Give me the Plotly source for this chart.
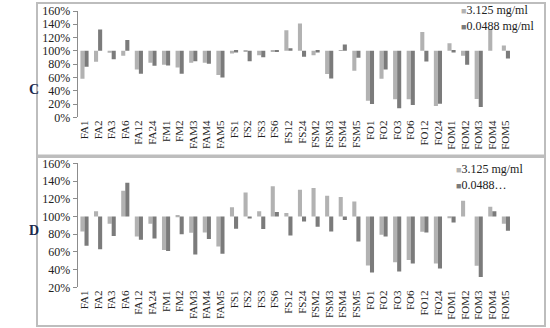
import plotly.graph_objects as go

categories = ["FA1", "FA2", "FA3", "FA6", "FA12", "FA24", "FM1", "FM2", "FAM3", "FAM4",
              "FAM5", "FS1", "FS2", "FS3", "FS6", "FS12", "FS24", "FSM2", "FSM3", "FSM4",
              "FSM5", "FO1", "FO2", "FO3", "FO6", "FO12", "FO24", "FOM1", "FOM2", "FOM3",
              "FOM4", "FOM5"]

# panel C (relative values, 1.0 = 100%)
c_high = [0.58, 0.835, 0.97, 0.925, 0.72, 0.82, 0.79, 0.75, 0.82, 0.82,
          0.635, 0.96, 0.985, 0.935, 0.99, 1.31, 1.41, 0.935, 0.65, 1.01,
          0.70, 0.25, 0.58, 0.27, 0.27, 1.285, 0.17, 1.115, 0.925, 0.275,
          1.325, 1.08]
c_low = [0.76, 1.32, 0.875, 1.165, 0.655, 0.775, 0.78, 0.655, 0.845, 0.805,
         0.60, 0.975, 0.845, 0.905, 0.99, 1.04, 0.91, 0.975, 0.585, 1.095,
         0.895, 0.20, 0.72, 0.135, 0.185, 0.84, 0.205, 0.975, 0.79, 0.155,
         1.0, 0.885]

# panel D
d_high = [0.83, 1.06, 0.917, 1.29, 0.774, 0.917, 0.62, 1.015, 0.815, 0.82,
          0.66, 1.105, 1.27, 1.06, 1.34, 1.038, 1.30, 1.32, 1.233, 1.22,
          1.17, 0.447, 0.793, 0.484, 0.507, 0.827, 0.469, 0.98, 1.177, 0.443,
          1.109, 0.917]
d_low = [0.67, 0.63, 0.78, 1.38, 0.737, 0.75, 0.61, 0.80, 0.57, 0.744,
         0.58, 0.86, 0.977, 0.857, 1.049, 0.785, 0.944, 0.883, 0.83, 0.959,
         0.718, 0.368, 0.774, 0.379, 0.469, 0.819, 0.413, 0.932, 1.0, 0.315,
         1.06, 0.838]

W, H = 550, 328
LIGHT = "#b2b2b2"
DARK = "#7b7b7b"
AXIS = "#8c8c8c"
FONT = "Liberation Serif"

x_dom = [77.7 / W, 512.7 / W]
c_dom = [1 - 117.3 / H, 1 - 11 / H]
d_dom = [1 - 287.3 / H, 1 - 163.3 / H]
c_range = [0, 1.6]
d_range = [0.2, 1.6]


def base_pos(dom, rng):
    # paper position of the 100% line
    return dom[0] + (1.0 - rng[0]) / (rng[1] - rng[0]) * (dom[1] - dom[0])


idx = list(range(len(categories)))

fig = go.Figure()

for vals, name, color, xa, ya in [
    (c_high, "3.125 mg/ml", LIGHT, "x", "y"),
    (c_low, "0.0488 mg/ml", DARK, "x", "y"),
    (d_high, "3.125 mg/ml", LIGHT, "x3", "y2"),
    (d_low, "0.0488…", DARK, "x3", "y2"),
]:
    fig.add_trace(go.Bar(
        x=idx,
        y=[v - 1 for v in vals],
        base=1,
        name=name,
        marker=dict(color=color, line=dict(width=0)),
        xaxis=xa, yaxis=ya
    ))

cat_axis = dict(
    domain=x_dom, range=[-0.5, len(categories) - 0.5], automargin=False,
    tickmode="array", tickvals=idx, ticktext=categories, tickangle=-90,
    showline=False, ticks="", showgrid=False, zeroline=False,
    tickfont=dict(family=FONT, size=11, color="#222"),
)
base_axis = dict(
    range=[-0.5, len(categories) - 0.5], anchor="free", automargin=False,
    tickmode="array", tickvals=[i - 0.5 for i in range(len(categories) + 1)],
    showticklabels=False, ticks="outside", ticklen=3, tickcolor=AXIS,
    showline=True, linecolor=AXIS, linewidth=1, showgrid=False, zeroline=False,
)
val_axis = dict(
    tickformat=".0%", dtick=0.2, showline=True, linecolor=AXIS, linewidth=1,
    ticks="outside", ticklen=4, tickcolor=AXIS, showgrid=False, zeroline=False,
    automargin=False, tickfont=dict(family=FONT, size=12, color="#222"),
)

fig.update_layout(
    width=W, height=H,
    margin=dict(l=0, r=0, t=0, b=0, autoexpand=False),
    paper_bgcolor="white", plot_bgcolor="white",
    barmode="group", bargap=0.4, bargroupgap=0,
    showlegend=False,
    xaxis=dict(cat_axis, anchor="y"),
    yaxis=dict(val_axis, domain=c_dom, range=c_range, anchor="x"),
    xaxis2=dict(base_axis, overlaying="x", position=base_pos(c_dom, c_range)),
    xaxis3=dict(cat_axis, anchor="y2"),
    yaxis2=dict(val_axis, domain=d_dom, range=d_range, anchor="x3"),
    xaxis4=dict(base_axis, overlaying="x3", position=base_pos(d_dom, d_range)),
)

# panel frames
for y0, y1 in [(3, 155.5), (157, 326)]:
    fig.add_shape(type="rect", xref="paper", yref="paper",
                  x0=37 / W, x1=545 / W, y0=1 - y1 / H, y1=1 - y0 / H,
                  line=dict(color="#bdbdbd", width=2), layer="below")

for label, ypx in [("C", 80), ("D", 240)]:
    fig.add_annotation(text="<b>" + label + "</b>", xref="paper", yref="paper",
                       x=27 / W, y=1 - ypx / H, showarrow=False,
                       font=dict(family=FONT, size=14, color="#1c2a4e"))

# legends, one per panel (Excel-style compact box, swatch + name)
legends = [
    (460, 17.7, [(LIGHT, "3.125 mg/ml"), (DARK, "0.0488 mg/ml")]),
    (455, 176.7, [(LIGHT, "3.125 mg/ml"), (DARK, "0.0488…")]),
]
for xpx, ypx, rows in legends:
    text = "<br>".join("<span style='color:%s;font-size:9px'>■</span>%s" % r
                       for r in rows)
    fig.add_annotation(
        text=text, align="left", borderpad=0,
        xref="paper", yref="paper", x=xpx / W, y=1 - ypx / H,
        xanchor="left", yanchor="middle", showarrow=False,
        font=dict(family=FONT, size=12, color="#222"))

fig.write_html("out.html", config={"displayModeBar": False},
               post_script="document.body.style.margin='0';")
